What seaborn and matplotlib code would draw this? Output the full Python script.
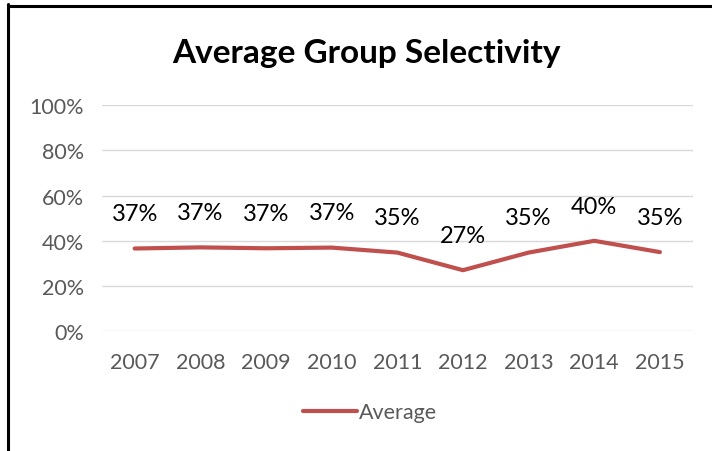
import matplotlib
matplotlib.use("Agg")
import matplotlib.pyplot as plt
import seaborn as sns
import pandas as pd
from matplotlib.lines import Line2D

years = ["2007", "2008", "2009", "2010", "2011", "2012", "2013", "2014", "2015"]
average = [0.366, 0.371, 0.367, 0.370, 0.348, 0.270, 0.348, 0.400, 0.350]
ytick_vals = [0, 0.2, 0.4, 0.6, 0.8, 1.0]
ytick_labels = ["0%", "20%", "40%", "60%", "80%", "100%"]

sns.set_theme(style="white")
plt.rcParams["font.family"] = ["Lato", "DejaVu Sans"]

df = pd.DataFrame({"Year": years, "Average": average})

fig = plt.figure(figsize=(7.12, 4.52), dpi=100)
ax = fig.add_axes([0.143, 0.265, 0.83, 0.50])

line_color = "#C0504D"
sns.lineplot(data=df, x="Year", y="Average", ax=ax, color=line_color,
             linewidth=3.0, sort=False, legend=False, solid_capstyle="round")

ax.set_ylim(0, 1.0)
ax.set_xlim(-0.5, len(years) - 0.5)
ax.set_yticks(ytick_vals)
ax.set_yticklabels(ytick_labels)
ax.grid(axis="y", color="#D9D9D9", linewidth=1)
ax.grid(axis="x", visible=False)
for s in ax.spines.values():
    s.set_visible(False)
ax.tick_params(axis="both", length=0, colors="#595959", labelsize=15.5)
ax.tick_params(axis="x", pad=15)
ax.tick_params(axis="y", pad=13)
ax.set_xlabel("")
ax.set_ylabel("")

for i, v in enumerate(average):
    ax.annotate(f"{round(v * 100):d}%", xy=(i, v), xytext=(0, 25),
                textcoords="offset points", ha="center", va="center",
                fontsize=17, color="black")

fig.text(0.515, 0.882, "Average Group Selectivity", ha="center", va="center",
         fontsize=24, fontweight="bold", color="black")

handle = Line2D([], [], color=line_color, linewidth=3.0, solid_capstyle="round")
fig.legend([handle], ["Average"], loc="center", bbox_to_anchor=(0.52, 0.086),
           frameon=False, fontsize=15.5, labelcolor="#595959",
           handlelength=2.5, handletextpad=0.1)

# border lines (left and top)
fig.add_artist(Line2D([0.0112, 0.0112], [0, 0.988], transform=fig.transFigure,
                      color="black", linewidth=2.2))
fig.add_artist(Line2D([0.0112, 1.0], [0.985, 0.985], transform=fig.transFigure,
                      color="black", linewidth=2.2))

fig.savefig("out.png", dpi=100)
